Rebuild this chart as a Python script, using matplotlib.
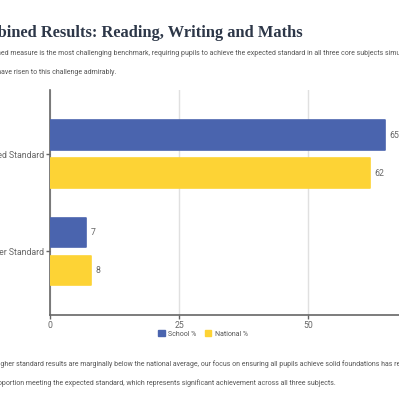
import matplotlib
matplotlib.use("Agg")
import matplotlib.pyplot as plt
from matplotlib.patches import Patch

categories = ["Expected Standard", "Higher Standard"]
school = [65, 7]
national = [62, 8]
xticks = [0, 25, 50, 75]

title = "Combined Results: Reading, Writing and Maths"
intro = ["The combined measure is the most challenging benchmark, requiring pupils to achieve the expected standard in all three core subjects simultaneously.",
         "Our pupils have risen to this challenge admirably."]
outro = ["While our higher standard results are marginally below the national average, our focus on ensuring all pupils achieve solid foundations has resulted in",
         "a strong proportion meeting the expected standard, which represents significant achievement across all three subjects."]

blue = "#4a64ae"
yellow = "#fdd335"
txt = "#555555"

plt.rcParams["font.family"] = ["Roboto", "DejaVu Sans"]

fig = plt.figure(figsize=(3.99, 4.0), dpi=100)
W, H = 399, 400

# title and text blocks, cropped on the left like the source page
x0 = -36 / W
fig.text(x0, 1 - 37 / H, title, fontsize=11.8, fontweight="bold", color="#2d3748",
         family=["Liberation Serif", "DejaVu Serif"], va="baseline")
fs = 5.0
fig.text(x0, 1 - 55 / H, intro[0], fontsize=fs, color=txt, va="baseline")
fig.text(x0, 1 - 74 / H, intro[1], fontsize=fs, color=txt, va="baseline")
fig.text(x0, 1 - 366 / H, outro[0], fontsize=fs, color=txt, va="baseline")
fig.text(x0, 1 - 385 / H, outro[1], fontsize=fs, color=txt, va="baseline")

ax = fig.add_axes([50 / W, 1 - 315 / H, 387 / W, 225 / H])
pos = list(range(len(categories)))
h = 0.303
off = 0.195
b1 = ax.barh([p - off for p in pos], school, height=h, color=blue, edgecolor=blue,
             linewidth=1.2, joinstyle="round", label="School %", zorder=3)
b2 = ax.barh([p + off for p in pos], national, height=h, color=yellow, edgecolor=yellow,
             linewidth=1.2, joinstyle="round", label="National %", zorder=3)

for bars in (b1, b2):
    for r in bars:
        ax.annotate(f"{r.get_width():g}", (r.get_width(), r.get_y() + r.get_height() / 2),
                    xytext=(3, 0), textcoords="offset points", va="center", ha="left",
                    fontsize=6.3, color="#666666")

ax.set_xlim(0, 75)
ax.set_ylim(1.653, -0.66)
ax.set_yticks(pos)
ax.set_yticklabels(categories)
ax.set_xticks(xticks)
ax.grid(axis="x", color="#e0e0e0", linewidth=1, zorder=0)
for s in ("top", "right"):
    ax.spines[s].set_visible(False)
for s in ("left", "bottom"):
    ax.spines[s].set_color("#666666")
    ax.spines[s].set_linewidth(1.2)
ax.tick_params(axis="both", colors="#666666", labelsize=6.3, length=3, width=1, pad=1.5)
ax.tick_params(axis="x", pad=1)

handles = [Patch(color=blue, label="School %"), Patch(color=yellow, label="National %")]
fig.legend(handles=handles, loc="center", bbox_to_anchor=(203 / W, 1 - 334 / H), ncol=2,
           frameon=False, fontsize=5, handlelength=0.9, handleheight=0.9,
           handletextpad=0.5, columnspacing=1.2, labelcolor=txt)

fig.savefig("out.png", dpi=100)
